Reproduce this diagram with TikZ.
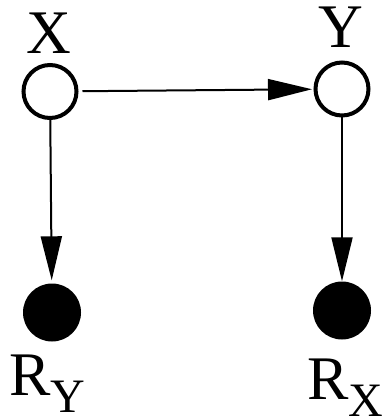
\documentclass[tikz,border=0pt]{standalone}
\usepackage{fontspec}
\setmainfont{Liberation Serif}
\usetikzlibrary{arrows.meta}
\begin{document}
\begin{tikzpicture}[x=1pt,y=-1pt,
  opennode/.style={circle,draw=black,line width=4pt,fill=white,minimum size=53pt,inner sep=0pt},
  fullnode/.style={circle,fill=black,minimum size=58pt,inner sep=0pt},
  varlabel/.style={inner sep=0pt,font=\fontsize{62}{62}\selectfont},
  edge/.style={line width=2pt,-{Triangle[length=44pt,width=21pt]}}]
\useasboundingbox (0,0) rectangle (385,419);
\node[opennode] (X) at (50,91.5) {};
\node[opennode] (Y) at (342,89) {};
\node[fullnode] (RY) at (52,312.5) {};
\node[fullnode] (RX) at (342,310.5) {};
\node[varlabel,anchor=base] (XL) at (49,53.3) {X};
\node[varlabel,anchor=base] (YL) at (341,48) {Y};
\node[varlabel,anchor=base west] (RYL) at (9,395) {R\raisebox{-17pt}{\fontsize{48}{48}\selectfont Y}};
\node[varlabel,anchor=base west] (RXL) at (307,399) {R\raisebox{-17pt}{\fontsize{48}{48}\selectfont X}};
\draw[edge,shorten <=4pt,shorten >=1.5pt] (X) -- (Y);
\draw[edge,shorten >=3pt] (X) -- (RY);
\draw[edge] (Y) -- (RX);
\end{tikzpicture}
\end{document}
